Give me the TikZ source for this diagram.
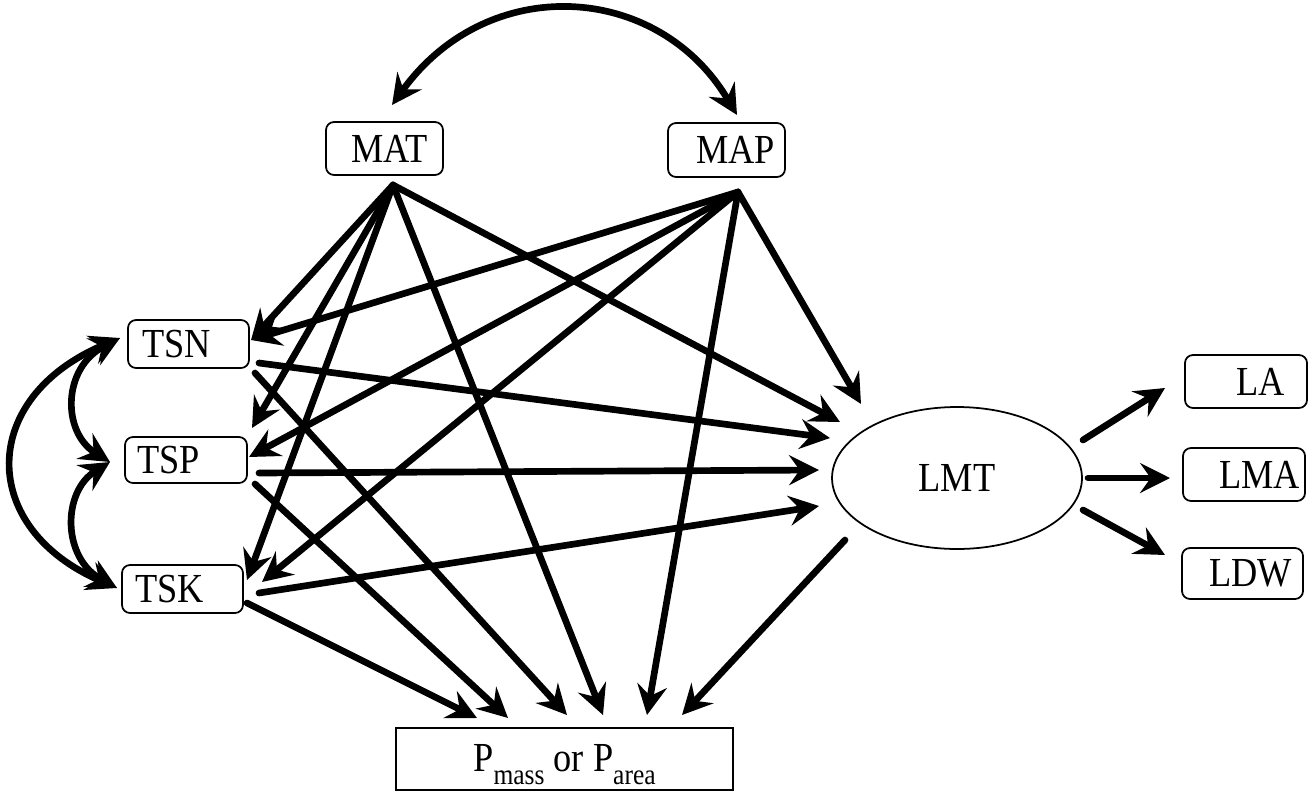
\documentclass[tikz,border=0pt]{standalone}
\usepackage{fontspec}
\setmainfont{Liberation Serif}[FakeStretch=0.88]
\usetikzlibrary{arrows.meta,shapes.geometric}
\begin{document}
\begin{tikzpicture}[x=0.02cm,y=-0.02cm,
  lbl/.style={font=\fontsize{23.5pt}{23.5pt}\selectfont},
  box/.style={draw, rounded corners=0.16cm, line width=1pt, inner ysep=0pt, lbl},
  tip/.tip={Stealth[length=17pt,width=17pt,inset=6pt]},
  arr/.style={line width=3.8pt, line cap=round, -tip},
  darr/.style={line width=3.8pt, tip-tip},
]
\useasboundingbox (0,0) rectangle (1314,791);

% nodes
\node[box, minimum width=2.34cm, minimum height=1.06cm, text width=1.74cm, inner xsep=0.30cm, align=right] (mat) at (384.5,148.5) {MAT};
\node[box, minimum width=2.34cm, minimum height=1.08cm, text width=1.94cm, inner xsep=0.20cm, align=right] (map) at (726.5,150) {MAP};
\node[box, minimum width=2.42cm, minimum height=0.96cm, text width=1.86cm, inner xsep=0.28cm, align=left] (tsn) at (188.5,344) {TSN};
\node[box, minimum width=2.44cm, minimum height=0.92cm, text width=1.96cm, inner xsep=0.24cm, align=left] (tsp) at (186,460) {TSP};
\node[box, minimum width=2.42cm, minimum height=0.96cm, text width=1.90cm, inner xsep=0.26cm, align=left] (tsk) at (182.5,589) {TSK};
\node[box, minimum width=2.44cm, minimum height=1.06cm, text width=1.56cm, inner xsep=0.44cm, align=right] (la) at (1246,381.5) {LA};
\node[box, minimum width=2.44cm, minimum height=1.06cm, text width=2.24cm, inner xsep=0.10cm, align=right] (lma) at (1244,474.5) {LMA};
\node[box, minimum width=2.42cm, minimum height=1.02cm, text width=1.98cm, inner xsep=0.22cm, align=right] (ldw) at (1242.5,573.5) {LDW};
\node[ellipse, draw, line width=1pt, minimum width=5cm, minimum height=2.84cm, inner sep=0pt, lbl] (lmt) at (957,478) {LMT};
\node[draw, line width=1pt, minimum width=6.74cm, minimum height=1.24cm, inner sep=0pt, text height=0.72cm, text depth=0.24cm, lbl] (p) at (564.5,759)
  {P\raisebox{-7.5pt}{\fontsize{16.5pt}{16.5pt}\selectfont mass} or P\raisebox{-7.5pt}{\fontsize{16.5pt}{16.5pt}\selectfont area}};

% connector end points
\coordinate (matO) at (393,185);
\coordinate (mapO) at (738,192);
\coordinate (tsnI) at (251,340);
\coordinate (tspI1) at (252,428);
\coordinate (tspI2) at (249,457);
\coordinate (tskI1) at (247,580);
\coordinate (tskI2) at (262,582);
\coordinate (lmtI1) at (840,422);
\coordinate (lmtI2) at (861,404);
\coordinate (lmtI3) at (830,438);
\coordinate (lmtI4) at (819,470);
\coordinate (lmtI5) at (819,506);
\coordinate (tsnO1) at (259,363);
\coordinate (tsnO2) at (255,373);
\coordinate (tspO1) at (259,473);
\coordinate (tspO2) at (255,484);
\coordinate (tskO1) at (259,593);
\coordinate (tskO2) at (247,603);
\coordinate (pI1) at (477,718);
\coordinate (pI2) at (508,718);
\coordinate (pI3) at (567,715);
\coordinate (pI4) at (603,715);
\coordinate (pI5) at (647,715);
\coordinate (pI6) at (682,715);
\coordinate (lmtO) at (845,540);
\coordinate (lmtA) at (1083,440);
\coordinate (lmtB) at (1088,478);
\coordinate (lmtC) at (1083,510);
\coordinate (laI) at (1165,388);
\coordinate (lmaI) at (1170,478);
\coordinate (ldwI) at (1165,555);
\coordinate (tsnL) at (120,338);
\coordinate (tspL) at (110,462);
\coordinate (tskL) at (117,588);
\coordinate (matT) at (392,105);
\coordinate (mapT) at (737,115);

% MAT
\draw[arr] (matO) -- (tsnI);
\draw[arr] (matO) -- (tspI1);
\draw[arr] (matO) -- (tskI1);
\draw[arr] (matO) -- (pI4);
\draw[arr] (matO) -- (lmtI1);
% MAP
\draw[arr] (mapO) -- (tsnI);
\draw[arr] (mapO) -- (tspI2);
\draw[arr] (mapO) -- (tskI2);
\draw[arr] (mapO) -- (pI5);
\draw[arr] (mapO) -- (lmtI2);
% TS*
\draw[arr] (tsnO1) -- (lmtI3);
\draw[arr] (tsnO2) -- (pI3);
\draw[arr] (tspO1) -- (lmtI4);
\draw[arr] (tspO2) -- (pI2);
\draw[arr] (tskO1) -- (lmtI5);
\draw[arr] (tskO2) -- (pI1);
% LMT
\draw[arr] (lmtO) -- (pI6);
\draw[arr] (lmtA) -- (laI);
\draw[arr] (lmtB) -- (lmaI);
\draw[arr] (lmtC) -- (ldwI);
% curved correlations
\draw[darr] (matT) .. controls (488,-28) and (658,-18) .. (mapT);
\draw[darr] (tsnL) .. controls (62,368) and (62,432) .. (tspL);
\draw[darr] (tspL) .. controls (62,492) and (62,558) .. (tskL);
\draw[darr] (tsnL) .. controls (-22,398) and (-22,528) .. (tskL);
\end{tikzpicture}
\end{document}
